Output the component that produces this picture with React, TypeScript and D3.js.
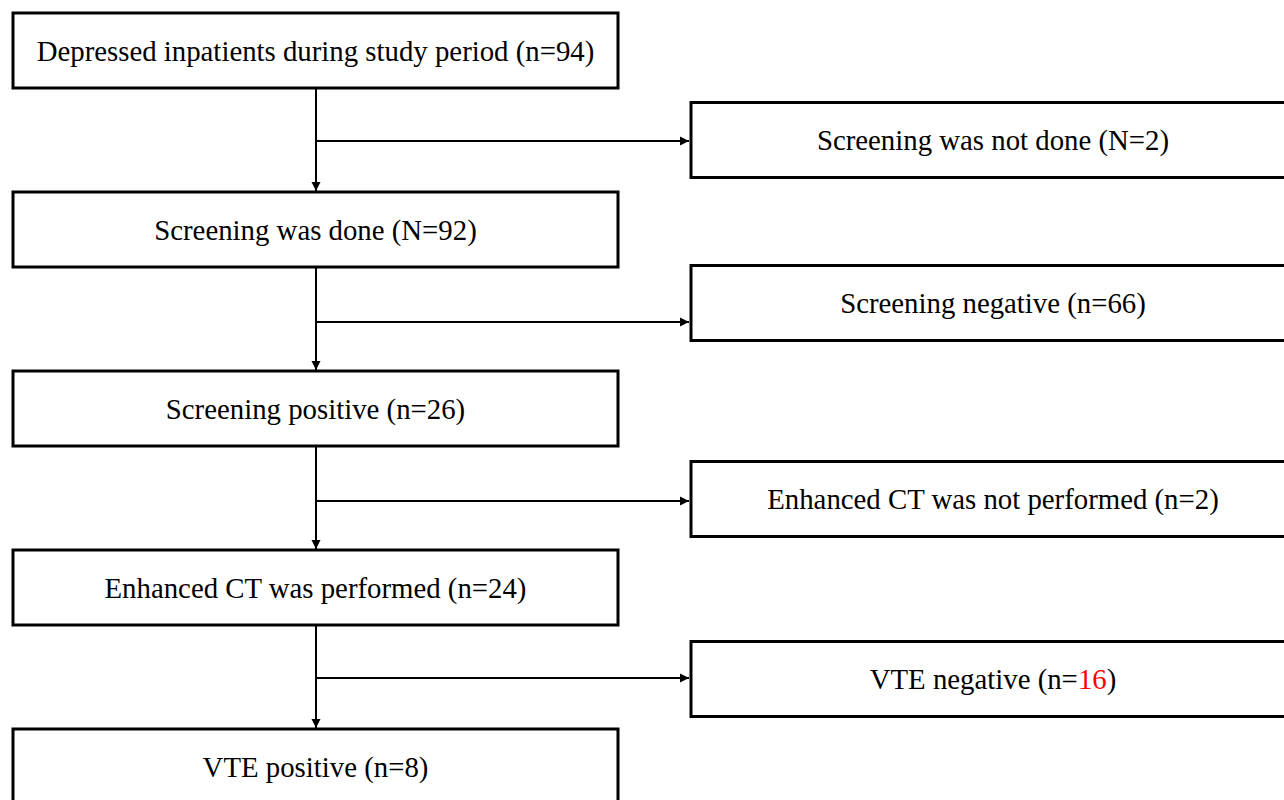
import React, { useEffect, useRef } from "react";
import * as d3 from "d3";

// flow steps (left column) and exclusions (right column)
const mainLabels = [
  "Depressed inpatients during study period",
  "Screening was done",
  "Screening positive",
  "Enhanced CT was performed",
  "VTE positive",
];
const mainCounts = ["n=94", "N=92", "n=26", "n=24", "n=8"];

const sideLabels = [
  "Screening was not done",
  "Screening negative",
  "Enhanced CT was not performed",
  "VTE negative",
];
const sideCounts = ["N=2", "n=66", "n=2", "n=16"];
const sideHighlight = [false, false, false, true];

const W = 1284;
const H = 800;

const App = () => {
  const ref = useRef<SVGSVGElement>(null);

  useEffect(() => {
    const svg = d3.select(ref.current);
    svg.selectAll("*").remove();

    const font = "'Liberation Serif', 'Times New Roman', serif";
    const fs = 28.8;

    const boxH = 75;
    const left = { x: 13, w: 605 };
    const right = { x: 691, w: 604 };
    const spineX = 316;

    // row scale: top of each main box
    const rowY = d3.scaleLinear().domain([0, 1]).range([13, 192]);
    // small vertical nudges of the side boxes relative to the gap middle
    const sideNudge = [0, -16, 1, 2];
    const arrowNudge = [1, 3, 3, 1];

    const defs = svg.append("defs");
    defs
      .append("marker")
      .attr("id", "head")
      .attr("viewBox", "0 0 10 10")
      .attr("refX", 10)
      .attr("refY", 5)
      .attr("markerWidth", 4.6)
      .attr("markerHeight", 4.6)
      .attr("markerUnits", "strokeWidth")
      .attr("orient", "auto")
      .append("path")
      .attr("d", "M0,0 L10,5 L0,10 Z")
      .attr("fill", "#000");

    const g = svg.append("g");

    // spine segments between main boxes
    const gaps = d3.range(mainLabels.length - 1);
    g.selectAll("line.down")
      .data(gaps)
      .join("line")
      .attr("class", "down")
      .attr("x1", spineX)
      .attr("x2", spineX)
      .attr("y1", (i) => rowY(i) + boxH)
      .attr("y2", (i) => rowY(i + 1) - 1)
      .attr("stroke", "#000")
      .attr("stroke-width", 2)
      .attr("marker-end", "url(#head)");

    const gapMid = (i: number) => (rowY(i) + boxH + rowY(i + 1)) / 2;

    g.selectAll("line.side")
      .data(gaps)
      .join("line")
      .attr("class", "side")
      .attr("x1", spineX)
      .attr("x2", right.x - 2)
      .attr("y1", (i) => gapMid(i) + arrowNudge[i])
      .attr("y2", (i) => gapMid(i) + arrowNudge[i])
      .attr("stroke", "#000")
      .attr("stroke-width", 2)
      .attr("marker-end", "url(#head)");

    // main boxes
    const mains = g
      .selectAll("g.main")
      .data(mainLabels)
      .join("g")
      .attr("class", "main");
    mains
      .append("rect")
      .attr("x", left.x)
      .attr("y", (_, i) => rowY(i))
      .attr("width", left.w)
      .attr("height", boxH)
      .attr("fill", "#fff")
      .attr("stroke", "#000")
      .attr("stroke-width", 3);
    mains
      .append("text")
      .attr("x", left.x + left.w / 2)
      .attr("y", (_, i) => rowY(i) + boxH / 2)
      .attr("dy", "0.36em")
      .attr("text-anchor", "middle")
      .attr("font-family", font)
      .attr("font-size", fs)
      .attr("fill", "#000")
      .text((d, i) => `${d} (${mainCounts[i]})`);

    // side boxes
    const sides = g
      .selectAll("g.sidebox")
      .data(sideLabels)
      .join("g")
      .attr("class", "sidebox");
    const sideTop = (i: number) => gapMid(i) - boxH / 2 + sideNudge[i];
    sides
      .append("rect")
      .attr("x", right.x)
      .attr("y", (_, i) => sideTop(i))
      .attr("width", right.w)
      .attr("height", boxH)
      .attr("fill", "#fff")
      .attr("stroke", "#000")
      .attr("stroke-width", 3);
    const st = sides
      .append("text")
      .attr("x", right.x + right.w / 2)
      .attr("y", (_, i) => sideTop(i) + boxH / 2)
      .attr("dy", "0.36em")
      .attr("text-anchor", "middle")
      .attr("font-family", font)
      .attr("font-size", fs)
      .attr("fill", "#000");
    st.each(function (d, i) {
      const t = d3.select(this);
      const [pre, num] = sideCounts[i].split("=");
      t.append("tspan").text(`${d} (${pre}=`);
      t.append("tspan")
        .attr("fill", sideHighlight[i] ? "#ff0000" : "#000")
        .text(num);
      t.append("tspan").text(")");
    });
  }, []);

  return (
    <svg
      ref={ref}
      width={W}
      height={H}
      style={{ position: "absolute", left: 0, top: 0, background: "#fff" }}
    ></svg>
  );
};

export default App;
